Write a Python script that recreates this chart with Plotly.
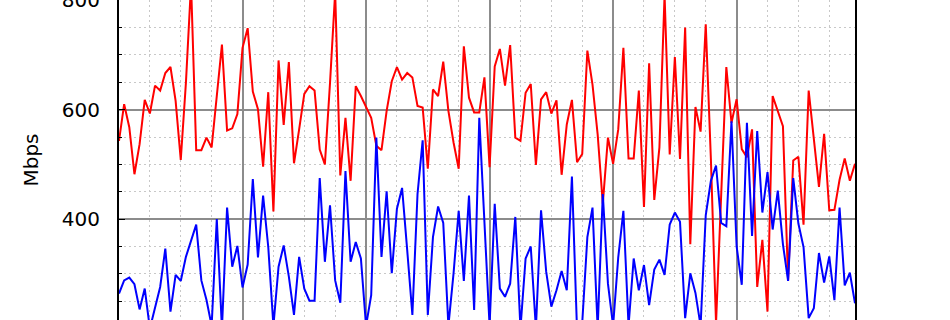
import plotly.graph_objects as go

# Throughput samples (Mbps), one value per sample index
red_mbps = [543, 610, 568, 482, 537, 618, 593, 644, 635, 667, 678, 616, 508, 649, 830, 526,
            526, 549, 531, 625, 719, 562, 566, 592, 713, 749, 633, 601, 496, 632, 414, 690,
            572, 687, 502, 564, 629, 643, 635, 527, 500, 649, 815, 480, 585, 470, 643, 625,
            604, 585, 534, 526, 598, 652, 678, 655, 667, 659, 607, 604, 492, 637, 625, 688,
            598, 540, 492, 716, 622, 595, 595, 659, 495, 679, 711, 644, 718, 549, 543, 631,
            647, 499, 619, 632, 593, 617, 481, 573, 618, 504, 519, 708, 646, 555, 428, 549,
            501, 564, 713, 511, 511, 635, 422, 685, 435, 531, 810, 518, 696, 510, 750, 354,
            605, 560, 756, 510, 210, 445, 678, 576, 619, 528, 513, 564, 276, 362, 231, 625,
            599, 570, 288, 507, 514, 390, 635, 547, 459, 556, 416, 417, 472, 511, 470, 501]

blue_mbps = [264, 288, 293, 281, 235, 273, 200, 240, 276, 346, 231, 298, 287, 331, 361, 390,
             288, 252, 205, 400, 200, 421, 313, 351, 275, 317, 473, 330, 443, 349, 205, 313,
             352, 295, 225, 331, 273, 251, 251, 475, 322, 425, 288, 247, 488, 322, 358, 328,
             205, 261, 549, 331, 451, 301, 419, 457, 343, 225, 446, 544, 225, 367, 423, 393,
             205, 301, 415, 287, 443, 234, 585, 400, 205, 428, 273, 258, 282, 404, 200, 328,
             350, 200, 416, 304, 240, 270, 305, 270, 478, 195, 210, 367, 421, 200, 446, 282,
             205, 330, 415, 205, 328, 270, 316, 243, 308, 326, 298, 390, 412, 395, 219, 301,
             265, 205, 407, 470, 498, 393, 387, 579, 350, 280, 576, 369, 561, 412, 486, 381,
             452, 354, 287, 475, 392, 349, 219, 237, 338, 284, 332, 252, 421, 279, 302, 246]

sample_index = list(range(len(red_mbps)))

y_tick_values = [400, 600, 800]
y_tick_labels = ["400", "600", "800"]

FONT = "DejaVu Sans"

fig = go.Figure()
fig.add_trace(go.Scatter(x=sample_index, y=red_mbps, mode="lines",
                         line=dict(color="#ff0000", width=2), showlegend=False))
fig.add_trace(go.Scatter(x=sample_index, y=blue_mbps, mode="lines",
                         line=dict(color="#0000ff", width=2), showlegend=False))

fig.update_layout(
    width=950, height=320,
    margin=dict(l=119, r=95, t=0, b=0),
    paper_bgcolor="white", plot_bgcolor="white",
    font=dict(family=FONT, size=20, color="#000000"),
)

fig.update_xaxes(
    range=[0, len(red_mbps) - 1],
    showticklabels=False,
    dtick=24, tick0=0,
    showgrid=True, gridcolor="#8c8c8c", gridwidth=1.5,
    minor=dict(dtick=6, showgrid=True, gridcolor="#c8c8c8", gridwidth=1, griddash="2px,3px"),
    zeroline=False, showline=False,
)

fig.update_yaxes(
    range=[215.6, 800.5],
    tickvals=y_tick_values, ticktext=y_tick_labels,
    ticks="inside", ticklen=6, tickwidth=1, tickcolor="#000000",
    ticklabelstandoff=13,
    ticklabeloverflow="allow",
    showgrid=True, gridcolor="#8c8c8c", gridwidth=1.5,
    minor=dict(dtick=50, tick0=0, ticks="inside", ticklen=3, tickcolor="#000000",
               showgrid=True, gridcolor="#c8c8c8", gridwidth=1, griddash="2px,3px"),
    showline=True, linecolor="#000000", linewidth=2, mirror=True,
    zeroline=False,
    automargin=False,
    title=dict(text="Mbps", font=dict(family=FONT, size=20), standoff=18),
)

fig.write_html("out.html")
